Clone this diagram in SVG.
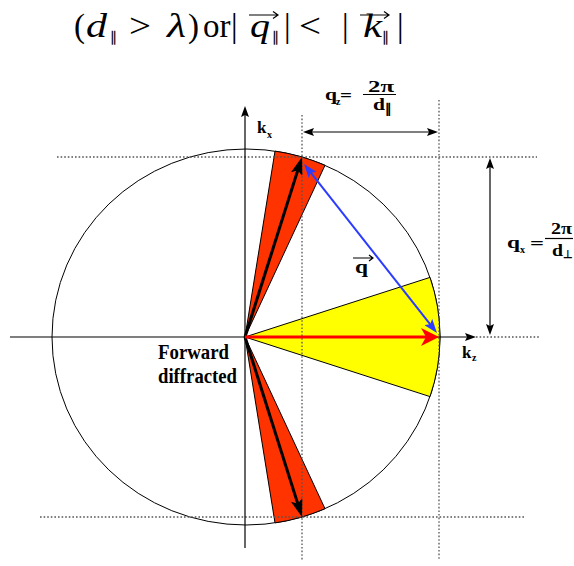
<svg xmlns="http://www.w3.org/2000/svg" width="574" height="566" viewBox="0 0 574 566">
<style>
.f{font-family:"Liberation Serif","Times New Roman",serif;font-size:33px;fill:#000}
.it{font-style:italic}
.fs{font-family:"Liberation Serif","DejaVu Serif",serif;font-size:15px;fill:#000}
.lb{font-family:"Liberation Serif","Times New Roman",serif;font-weight:bold;font-size:17px;fill:#000}
.sb{font-family:"Liberation Serif","Times New Roman",serif;font-weight:bold;font-size:10px;fill:#000}
.dot{stroke:#555;stroke-width:1.3;stroke-dasharray:1.6 2;fill:none}
.thin{stroke:#000;stroke-width:1.2;fill:none}
.wedge{stroke:#000;stroke-width:1}
</style>
<defs>
<marker id="ma" markerUnits="userSpaceOnUse" markerWidth="12" markerHeight="8" refX="3" refY="4" orient="auto-start-reverse"><path d="M0,0 L11,4 L0,8 L2,4 Z" fill="#000"/></marker>
<marker id="mbig" markerUnits="userSpaceOnUse" markerWidth="18" markerHeight="12" refX="6" refY="6" orient="auto"><path d="M0,0 L18,6 L0,12 L4,6 Z" fill="#000"/></marker>
<marker id="mred" markerUnits="userSpaceOnUse" markerWidth="18" markerHeight="18" refX="6" refY="9" orient="auto"><path d="M0,0 L18,9 L0,18 L5,9 Z" fill="#f00"/></marker>
<marker id="mblue" markerUnits="userSpaceOnUse" markerWidth="14" markerHeight="10" refX="5" refY="5" orient="auto-start-reverse"><path d="M0,0 L14,5 L0,10 L3,5 Z" fill="#2b3bff"/></marker>
</defs>
<rect width="574" height="566" fill="#fff"/>

<g id="formula">
<text class="f" x="74" y="37">(</text>
<text class="f it" x="86" y="37" textLength="21" lengthAdjust="spacingAndGlyphs">d</text>
<text class="fs" x="110" y="43">∥</text>
<text class="f" x="129" y="37" textLength="22" lengthAdjust="spacingAndGlyphs">&gt;</text>
<text class="f it" x="167" y="37" textLength="19" lengthAdjust="spacingAndGlyphs">λ</text>
<text class="f" x="188" y="37">)</text>
<text class="f" x="203" y="37">or</text>
<text class="f" x="231" y="37">|</text>
<text class="f it" x="250" y="37" textLength="20" lengthAdjust="spacingAndGlyphs">q</text>
<text class="fs" x="272" y="43">∥</text>
<text class="f" x="284" y="37">|</text>
<text class="f" x="299" y="37" textLength="22" lengthAdjust="spacingAndGlyphs">&lt;</text>
<text class="f" x="342" y="37">|</text>
<text class="f it" x="363" y="37" textLength="19" lengthAdjust="spacingAndGlyphs">k</text>
<text class="fs" x="382" y="43">∥</text>
<text class="f" x="397" y="37">|</text>
<path d="M249,15 H278 M273,11.5 L278,15 L273,18.5" class="thin"/>
<path d="M360,15 H389 M384,11.5 L389,15 L384,18.5" class="thin"/>
</g>

<g id="circle">
<ellipse cx="246" cy="337" rx="194" ry="188" fill="none" stroke="#000" stroke-width="1"/>
</g>

<g id="wedges">
<path id="wedge-top" class="wedge" fill="#ff3300" d="M245,337 L275,151.1 A194,188 0 0,1 325,165.3 Z"/>
<path id="wedge-bottom" class="wedge" fill="#ff3300" d="M245,337 L325,508.7 A194,188 0 0,1 275,522.9 Z"/>
<path id="wedge-forward" class="wedge" fill="#ffff00" d="M245,337 L430,277.4 A194,188 0 0,1 430,396.6 Z"/>
</g>

<g id="guides">
<line class="dot" x1="57" y1="157" x2="537" y2="157"/>
<line class="dot" x1="40" y1="517" x2="525" y2="517"/>
<line class="dot" x1="302" y1="115" x2="302" y2="560"/>
<line class="dot" x1="439" y1="100" x2="439" y2="560"/>
<line class="dot" x1="476" y1="337" x2="540" y2="337"/>
</g>

<g id="connectors">
<line id="axis-kx" x1="245" y1="548" x2="245" y2="114" stroke="#000" stroke-width="1.2" marker-end="url(#ma)"/>
<line id="axis-kz" x1="10" y1="337" x2="468" y2="337" stroke="#000" stroke-width="1.2" marker-end="url(#ma)"/>
<line id="dim-qz" x1="311" y1="132" x2="430" y2="132" stroke="#000" stroke-width="1.2" marker-start="url(#ma)" marker-end="url(#ma)"/>
<line id="dim-qx" x1="490" y1="166" x2="490" y2="327" stroke="#000" stroke-width="1.2" marker-start="url(#ma)" marker-end="url(#ma)"/>
<line id="k-up" x1="245" y1="337" x2="298.4" y2="168.4" stroke="#000" stroke-width="3" marker-end="url(#mbig)"/>
<line id="k-down" x1="245" y1="337" x2="298.4" y2="505.6" stroke="#000" stroke-width="3" marker-end="url(#mbig)"/>
<line id="k-forward" x1="245" y1="337" x2="427" y2="337" stroke="#f00" stroke-width="3" marker-end="url(#mred)"/>
<line id="q-vector" x1="309.6" y1="171.1" x2="431.4" y2="325.9" stroke="#2b3bff" stroke-width="2" marker-start="url(#mblue)" marker-end="url(#mblue)"/>
</g>

<g id="labels">
<g id="label-kx"><text class="lb" x="257" y="133">k</text><text class="sb" x="267" y="138">x</text></g>
<g id="label-kz"><text class="lb" x="462" y="358">k</text><text class="sb" x="472" y="361">z</text></g>
<g id="label-qz">
<text class="lb" x="325" y="100" textLength="12" lengthAdjust="spacingAndGlyphs">q</text><text class="sb" x="336" y="105">z</text>
<text class="lb" x="340" y="101" textLength="12" lengthAdjust="spacingAndGlyphs">=</text>
<text class="lb" x="368" y="92" textLength="26" lengthAdjust="spacingAndGlyphs">2π</text>
<line x1="363" y1="94.5" x2="396" y2="94.5" stroke="#000" stroke-width="1.2"/>
<text class="lb" x="373" y="110" textLength="12" lengthAdjust="spacingAndGlyphs">d</text><text class="sb" x="385" y="113" style="font-size:13px">∥</text>
</g>
<g id="label-qx">
<text class="lb" x="507" y="248" textLength="13" lengthAdjust="spacingAndGlyphs">q</text><text class="sb" x="520" y="253">x</text>
<text class="lb" x="530" y="249" textLength="14" lengthAdjust="spacingAndGlyphs">=</text>
<text class="lb" x="551" y="234" textLength="21" lengthAdjust="spacingAndGlyphs">2π</text>
<line x1="545" y1="238.5" x2="573" y2="238.5" stroke="#000" stroke-width="1.2"/>
<text class="lb" x="552" y="256" textLength="11" lengthAdjust="spacingAndGlyphs">d</text><text class="sb" x="563" y="258" style="font-size:11px">⊥</text>
</g>
<g id="label-q">
<text class="lb" x="355" y="273" style="font-size:18px" textLength="13" lengthAdjust="spacingAndGlyphs">q</text>
<path d="M353,258 H373 M369,255 L373,258 L369,261" class="thin"/>
</g>
<g id="label-forward">
<text class="lb" x="158" y="359" style="font-size:20px" textLength="71" lengthAdjust="spacingAndGlyphs">Forward</text>
<text class="lb" x="158" y="383" style="font-size:20px" textLength="79" lengthAdjust="spacingAndGlyphs">diffracted</text>
</g>
</g>
</svg>
